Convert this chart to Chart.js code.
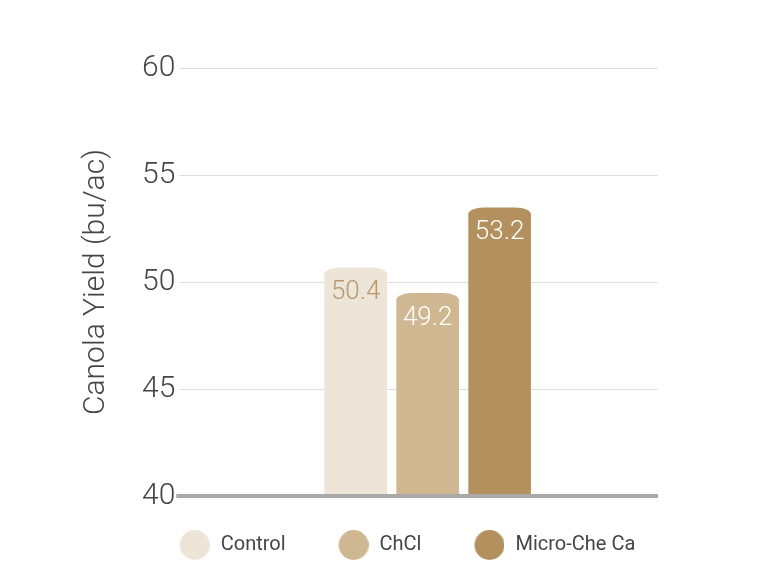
<!DOCTYPE html>
<html>
<head>
<meta charset="utf-8">
<script src="https://cdn.jsdelivr.net/npm/chart.js@4"></script>
<style>
  html, body { margin: 0; padding: 0; background: #fff; }
  #wrap { width: 768px; height: 572px; }
</style>
</head>
<body>
<div id="wrap"><canvas id="yieldChart" width="768" height="572"></canvas></div>
<script>
// data
const categories = ['Canola'];
const seriesNames = ['Control', 'ChCl', 'Micro-Che Ca'];
const seriesValues = [[50.4], [49.2], [53.2]];
const seriesColors = ['#ede5d7', '#cfb792', '#b2915f'];
const labelColors = ['#b8986a', '#ffffff', '#ffffff'];
const yTicks = [40, 45, 50, 55, 60];

const fontFamily = 'Roboto, "Noto Sans", sans-serif';

// legend dots: circle sits right of the image centre, close to its text
function legendDot(color) {
  const c = document.createElement('canvas');
  c.width = 62;
  c.height = 30;
  const g = c.getContext('2d');
  g.fillStyle = color;
  g.beginPath();
  g.arc(47, 15, 15, 0, 2 * Math.PI);
  g.fill();
  return c;
}

// rounded dome caps on top of the bars
const domeCaps = {
  id: 'domeCaps',
  afterDatasetsDraw(chart) {
    const ctx = chart.ctx;
    chart.data.datasets.forEach((ds, i) => {
      chart.getDatasetMeta(i).data.forEach(bar => {
        const left = bar.x - bar.width / 2;
        const right = bar.x + bar.width / 2;
        const rx = 15, ry = 6;
        ctx.save();
        ctx.fillStyle = ds.backgroundColor;
        ctx.beginPath();
        ctx.moveTo(left, bar.y + 1);
        ctx.ellipse(left + rx, bar.y + 1, rx, ry + 1, 0, Math.PI, 1.5 * Math.PI);
        ctx.lineTo(right - rx, bar.y - ry);
        ctx.ellipse(right - rx, bar.y + 1, rx, ry + 1, 0, 1.5 * Math.PI, 2 * Math.PI);
        ctx.closePath();
        ctx.fill();
        ctx.restore();
      });
    });
  }
};

// value labels inside the bars
const valueLabels = {
  id: 'valueLabels',
  afterDatasetsDraw(chart) {
    const ctx = chart.ctx;
    chart.data.datasets.forEach((ds, i) => {
      chart.getDatasetMeta(i).data.forEach((bar, j) => {
        ctx.save();
        ctx.font = '300 26px ' + fontFamily;
        ctx.fillStyle = labelColors[i];
        ctx.textAlign = 'center';
        ctx.textBaseline = 'middle';
        ctx.fillText(ds.data[j].toFixed(1), bar.x, bar.y + 19);
        ctx.restore();
      });
    });
  }
};

// thick base line at 40
const baseLine = {
  id: 'baseLine',
  afterDatasetsDraw(chart) {
    const { ctx, chartArea, scales } = chart;
    const y = scales.y.getPixelForValue(yTicks[0]);
    ctx.save();
    ctx.strokeStyle = '#a9a9a9';
    ctx.lineWidth = 4;
    ctx.beginPath();
    ctx.moveTo(chartArea.left - 3, y);
    ctx.lineTo(chartArea.right, y);
    ctx.stroke();
    ctx.restore();
  }
};

// legend and bar group sit a bit right of centre in the original
const nudge = {
  id: 'nudge',
  afterLayout(chart) {
    chart.legend.left += 23;
    chart.legend.right += 23;
    const x = chart.scales.x;
    x.left += 9;
    x.right += 9;
    x.configure();
  }
};

new Chart(document.getElementById('yieldChart'), {
  type: 'bar',
  data: {
    labels: categories,
    datasets: seriesNames.map((name, i) => ({
      label: name,
      data: seriesValues[i],
      backgroundColor: seriesColors[i],
      pointStyle: legendDot(seriesColors[i]),
      borderWidth: 0,
      barPercentage: 0.87,
      categoryPercentage: 0.451
    }))
  },
  options: {
    responsive: false,
    animation: false,
    layout: { padding: { left: 78, right: 110, top: 68, bottom: 7 } },
    scales: {
      x: {
        grid: { display: false },
        border: { display: false },
        ticks: { display: false },
        afterFit: axis => { axis.height = 19; }
      },
      y: {
        min: 40,
        max: 60,
        afterBuildTicks: axis => { axis.ticks = yTicks.map(v => ({ value: v })); },
        grid: { color: '#dedede', lineWidth: 1, drawTicks: false },
        border: { display: false },
        ticks: {
          padding: 4,
          color: '#454545',
          font: { family: fontFamily, size: 30, weight: 300 }
        },
        title: {
          display: true,
          text: 'Canola Yield (bu/ac)',
          color: '#454545',
          font: { family: fontFamily, size: 30, weight: 300 },
          padding: { top: 0, bottom: 24 }
        }
      }
    },
    plugins: {
      legend: {
        position: 'bottom',
        labels: {
          usePointStyle: true,
          pointStyleWidth: 64,
          padding: 20,
          color: '#454545',
          font: { family: fontFamily, size: 20 }
        }
      },
      tooltip: { enabled: false }
    }
  },
  plugins: [domeCaps, valueLabels, baseLine, nudge]
});
</script>
</body>
</html>
